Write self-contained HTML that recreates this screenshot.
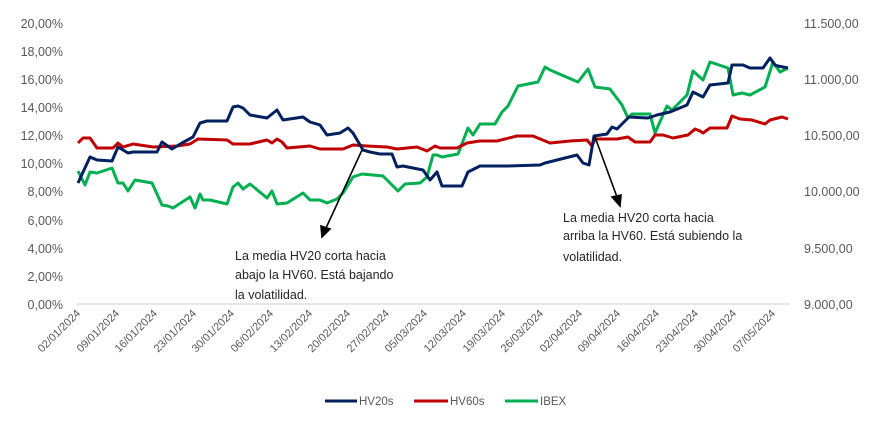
<!DOCTYPE html>
<html><head><meta charset="utf-8"><style>
body{margin:0;background:#fff}
svg{display:block;font-family:"Liberation Sans",sans-serif}
</style></head><body>
<svg width="872" height="421" xmlns="http://www.w3.org/2000/svg">
<g fill="#595959" font-size="12.5" text-anchor="end">
<text x="63" y="28">20,00%</text><text x="63" y="56">18,00%</text><text x="63" y="84">16,00%</text><text x="63" y="112">14,00%</text><text x="63" y="140">12,00%</text><text x="63" y="168">10,00%</text><text x="63" y="196">8,00%</text><text x="63" y="225">6,00%</text><text x="63" y="253">4,00%</text><text x="63" y="281">2,00%</text><text x="63" y="309">0,00%</text>
</g>
<g fill="#595959" font-size="12.5">
<text x="804" y="28">11.500,00</text><text x="804" y="84">11.000,00</text><text x="804" y="140">10.500,00</text><text x="804" y="196">10.000,00</text><text x="804" y="253">9.500,00</text><text x="804" y="309">9.000,00</text>
</g>
<line x1="77" y1="304" x2="790" y2="304" stroke="#d9d9d9" stroke-width="1.3"/>
<g fill="#595959" font-size="11" text-anchor="end">
<text transform="translate(81,314) rotate(-45)">02/01/2024</text>
<text transform="translate(120,314) rotate(-45)">09/01/2024</text>
<text transform="translate(158,314) rotate(-45)">16/01/2024</text>
<text transform="translate(197,314) rotate(-45)">23/01/2024</text>
<text transform="translate(235,314) rotate(-45)">30/01/2024</text>
<text transform="translate(274,314) rotate(-45)">06/02/2024</text>
<text transform="translate(313,314) rotate(-45)">13/02/2024</text>
<text transform="translate(351,314) rotate(-45)">20/02/2024</text>
<text transform="translate(390,314) rotate(-45)">27/02/2024</text>
<text transform="translate(428,314) rotate(-45)">05/03/2024</text>
<text transform="translate(467,314) rotate(-45)">12/03/2024</text>
<text transform="translate(506,314) rotate(-45)">19/03/2024</text>
<text transform="translate(544,314) rotate(-45)">26/03/2024</text>
<text transform="translate(583,314) rotate(-45)">02/04/2024</text>
<text transform="translate(621,314) rotate(-45)">09/04/2024</text>
<text transform="translate(660,314) rotate(-45)">16/04/2024</text>
<text transform="translate(699,314) rotate(-45)">23/04/2024</text>
<text transform="translate(737,314) rotate(-45)">30/04/2024</text>
<text transform="translate(776,314) rotate(-45)">07/05/2024</text>
</g>
<g fill="none" stroke-width="3" stroke-linejoin="round">
<polyline stroke="#00b050" points="78,171 85,185 90,172 97,173 112,168 118,183 123,183 128,191 135,180 152,183 162,205 168,206 173,208 190,197 195,208 200,194 203,200 210,200 227,204 233,187 238,183 243,189 250,184 267,198 272,191 277,204 287,203 303,193 310,200 320,200 327,203 337,199 343,193 353,177 362,174 383,176 398,191 405,184 420,183 427,177 433,155 437,155 442,157 458,154 468,128 473,135 480,124 495,124 502,112 508,106 518,86 528,84 538,82 545,67 550,70 578,82 588,69 595,87 610,89 622,105 628,118 632,114 650,114 655,133 667,106 672,110 687,95 693,71 703,80 710,62 728,68 733,95 742,93 750,95 765,87 773,62 780,72 788,68"/>
<polyline stroke="#c00000" points="78,143 83,138 90,138 97,148 113,148 118,143 123,147 133,144 153,147 177,146 190,144 198,139 227,140 233,144 250,144 267,140 272,143 277,139 282,142 287,148 310,146 320,149 343,149 353,145 367,146 387,147 397,149 417,147 427,151 435,146 440,148 457,148 467,143 480,141 497,141 517,136 533,136 550,143 570,141 587,140 592,146 595,139 617,139 628,137 635,142 650,142 655,135 663,135 673,138 688,135 695,129 700,131 703,133 710,128 727,128 732,116 740,119 752,120 765,124 770,120 782,117 788,119"/>
<polyline stroke="#002060" points="78,183 90,157 97,160 112,161 118,147 128,153 133,152 157,152 162,142 172,149 182,143 193,137 200,123 207,121 227,121 233,107 238,106 243,108 250,115 267,118 277,110 283,120 303,117 310,122 320,125 327,135 340,133 348,128 353,133 363,150 370,152 380,154 392,154 397,167 403,166 423,170 430,180 437,172 442,186 462,186 468,172 480,166 507,166 540,165 545,163 577,155 583,163 589,165 594,136 607,134 612,127 617,129 629,117 648,118 657,115 670,112 687,105 693,92 703,97 710,85 728,83 732,65 743,65 750,68 763,68 770,58 775,65 778,66 788,68"/>
</g>
<g stroke="#000" stroke-width="1.6" fill="#000">
<line x1="362" y1="150" x2="326" y2="228"/>
<polygon points="322,237 321,226 330,229"/>
<line x1="595" y1="137" x2="617" y2="197"/>
<polygon points="620,206 612,197 621,195"/>
</g>
<g fill="#262626" font-size="12.5">
<text x="235" y="260">La media HV20 corta hacia</text>
<text x="235" y="279">abajo la HV60. Está bajando</text>
<text x="235" y="299">la volatilidad.</text>
<text x="563" y="222">La media HV20 corta hacia</text>
<text x="563" y="240">arriba la HV60. Está subiendo  la</text>
<text x="563" y="261">volatilidad.</text>
</g>
<g stroke-width="3">
<line x1="325" y1="401" x2="357" y2="401" stroke="#002060"/>
<line x1="414" y1="401" x2="448" y2="401" stroke="#c00000"/>
<line x1="505" y1="401" x2="538" y2="401" stroke="#00b050"/>
</g>
<g fill="#595959" font-size="11.5">
<text x="359" y="405">HV20s</text><text x="450" y="405">HV60s</text><text x="540" y="405">IBEX</text>
</g>
</svg>
</body></html>
